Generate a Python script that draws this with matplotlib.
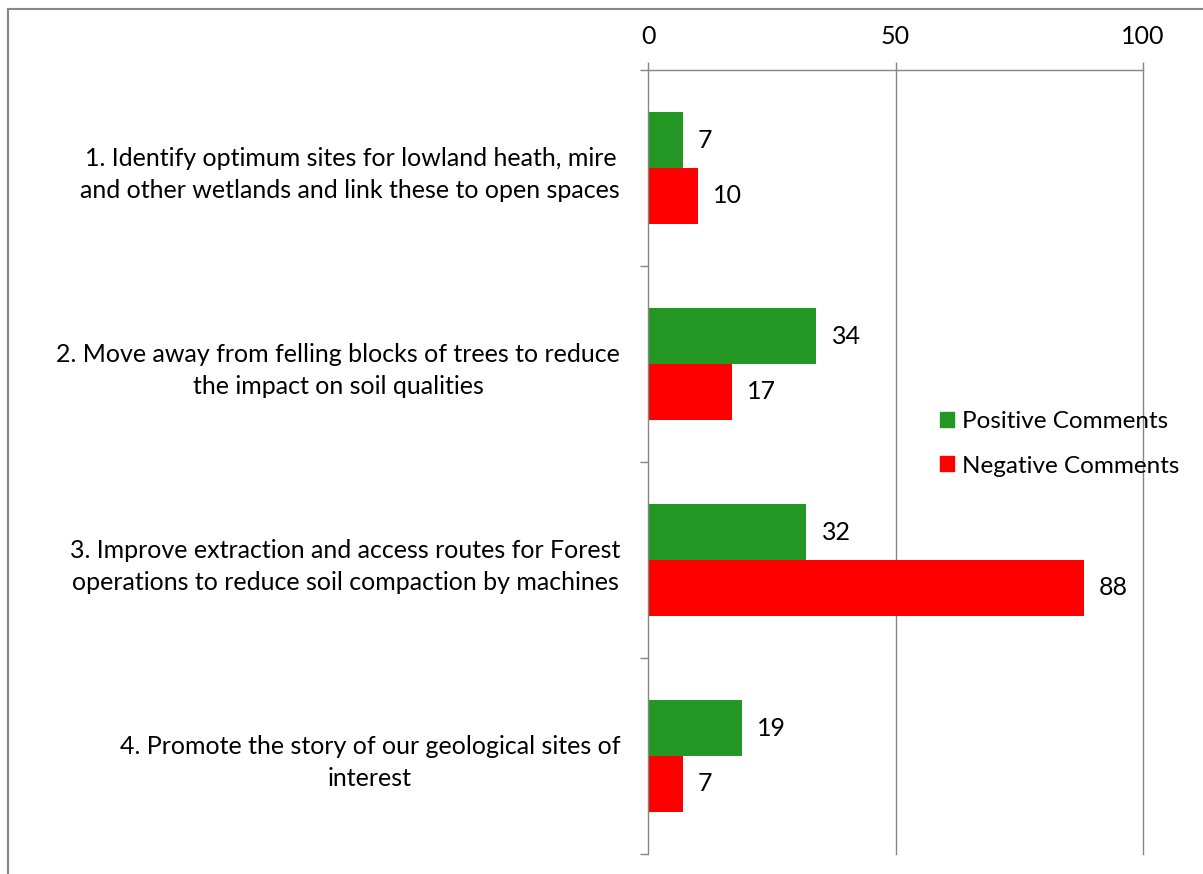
import matplotlib
matplotlib.use("Agg")
from matplotlib import pyplot as plt
from matplotlib.patches import Patch
from matplotlib.lines import Line2D
import numpy as np

plt.rcParams["font.family"] = ["Lato", "DejaVu Sans"]

categories = [
    "1. Identify optimum sites for lowland heath, mire\nand other wetlands and link these to open spaces",
    "2. Move away from felling blocks of trees to reduce\nthe impact on soil qualities",
    "3. Improve extraction and access routes for Forest\noperations to reduce soil compaction by machines",
    "4. Promote the story of our geological sites of\ninterest",
]
positive = [7, 34, 32, 19]
negative = [10, 17, 88, 7]
xticks = [0, 50, 100]

green = "#239623"
red = "#FF0000"
grey = "#868686"
fs = 18

W, H = 1203, 874
fig = plt.figure(figsize=(W / 100, H / 100), dpi=100)
ax = fig.add_axes([648 / W, 1 - 854 / H, (1143 - 648) / W, (854 - 70) / H])

y = np.arange(len(categories))
bh = 0.2857
ax.barh(y - bh / 2, positive, height=bh, color=green, label="Positive Comments")
ax.barh(y + bh / 2, negative, height=bh, color=red, label="Negative Comments")

for yi, p, n in zip(y, positive, negative):
    ax.annotate(str(p), (p, yi - bh / 2), xytext=(11, 0), textcoords="offset points",
                va="center", ha="left", fontsize=fs)
    ax.annotate(str(n), (n, yi + bh / 2), xytext=(11, 0), textcoords="offset points",
                va="center", ha="left", fontsize=fs)

ax.set_xlim(0, 100)
ax.set_ylim(3.5, -0.5)
ax.set_xticks(xticks)
ax.xaxis.tick_top()
ax.set_yticks(np.arange(-0.5, 4, 1))
ax.set_yticklabels([])
ax.set_yticks(y, minor=True)
ax.set_yticklabels(categories, minor=True, fontsize=fs, ha="right",
                   multialignment="center", linespacing=1.5)
ax.tick_params(axis="y", which="minor", length=0, pad=20)
ax.tick_params(axis="y", which="major", length=6, color=grey, width=1)
ax.tick_params(axis="x", length=6, color=grey, width=1, labelsize=fs, pad=10)

# vertical gridlines, left unclipped so the one at 100 stays full width
for xv in xticks[1:]:
    ax.axvline(xv, color=grey, linewidth=1, clip_on=False, zorder=0)
for s in ["bottom", "right"]:
    ax.spines[s].set_visible(False)
for s in ["top", "left"]:
    ax.spines[s].set_color(grey)
    ax.spines[s].set_linewidth(1)

handles = [Patch(color=green), Patch(color=red)]
fig.legend(handles, ["Positive Comments", "Negative Comments"], loc="center left",
           bbox_to_anchor=(940 / W, 1 - 444 / H), frameon=False, fontsize=17.5,
           handlelength=0.57, handleheight=0.57, handletextpad=0.35,
           labelspacing=0.95, borderpad=0, borderaxespad=0)

# outer border on the top and left edges
fig.add_artist(Line2D([8 / W, 1], [1 - 9 / H, 1 - 9 / H], color=grey, linewidth=1.5))
fig.add_artist(Line2D([8 / W, 8 / W], [0, 1 - 9 / H], color=grey, linewidth=1.5))

fig.savefig("out.png", dpi=100)
